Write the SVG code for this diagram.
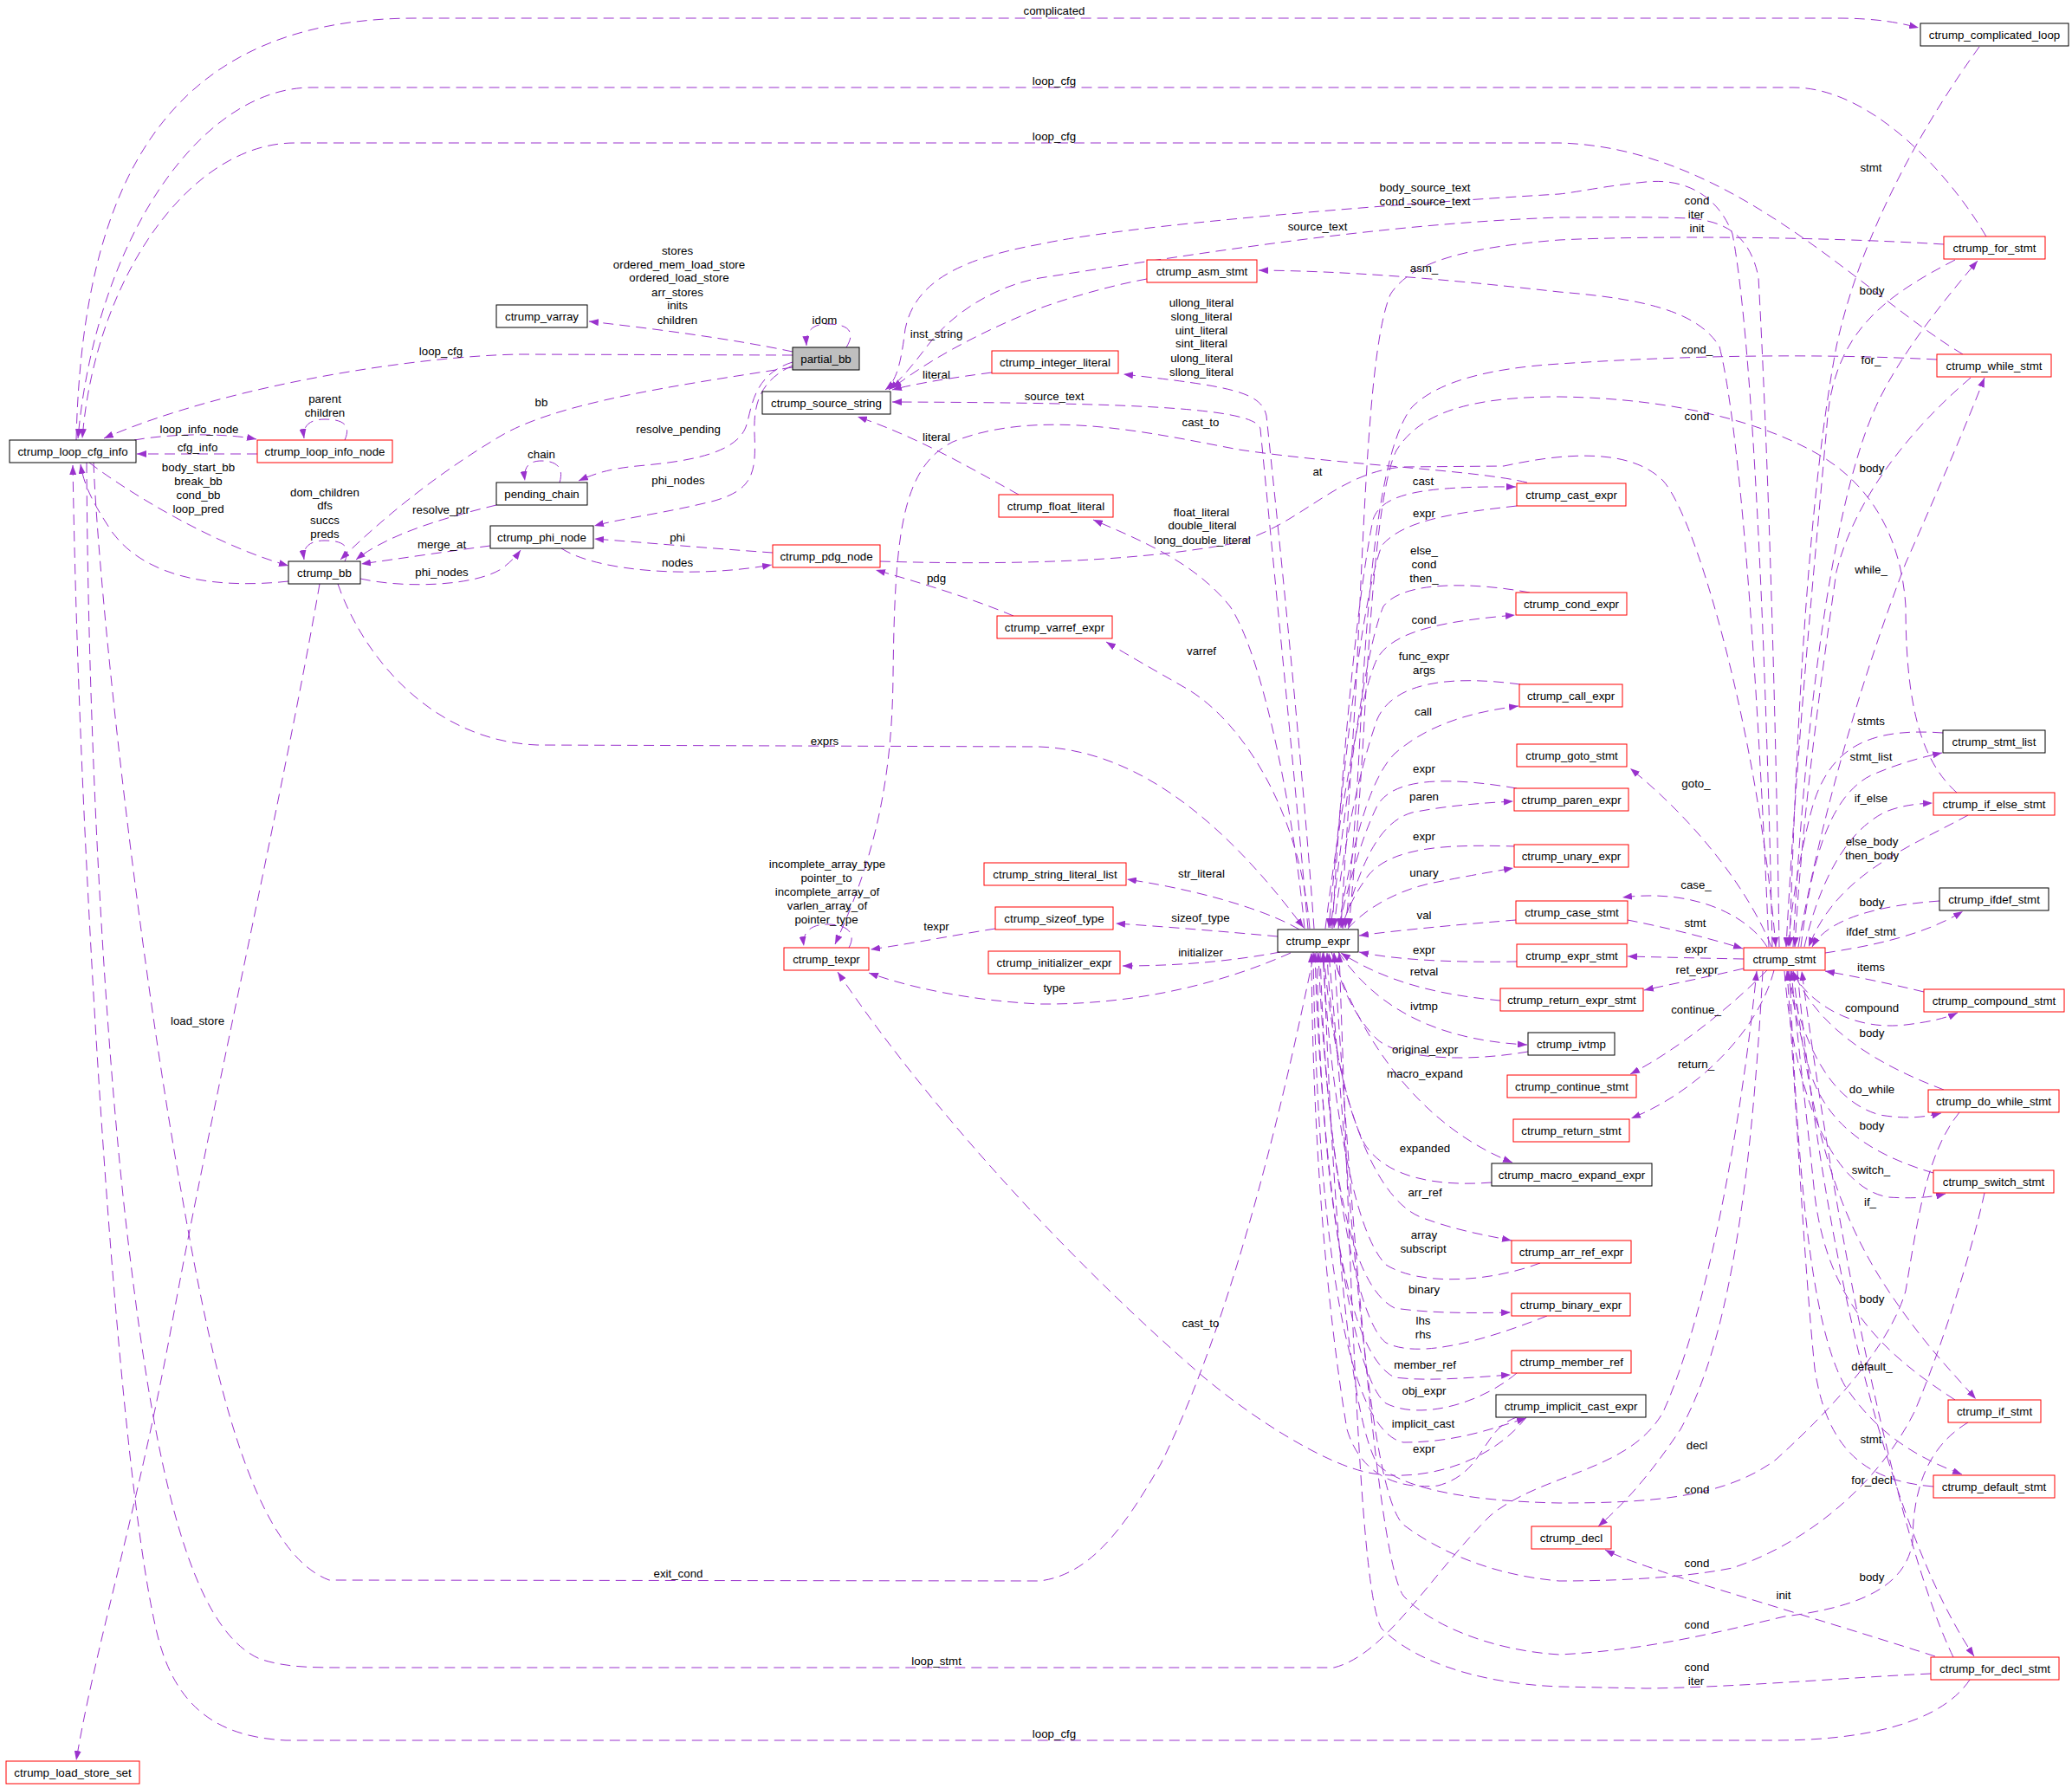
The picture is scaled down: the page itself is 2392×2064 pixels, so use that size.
<svg xmlns="http://www.w3.org/2000/svg" width="2392" height="2064" viewBox="0 0 2392 2064">
<style>
.e{fill:none;stroke:#9a32cd;stroke-width:1;stroke-dasharray:12,7;marker-end:url(#a)}
.b{fill:#fff;stroke:#000;stroke-width:1}
.r{fill:#fff;stroke:#f00;stroke-width:1}
.g{fill:#bfbfbf;stroke:#000;stroke-width:1}
text{font-family:"Liberation Sans",Arial,sans-serif;font-size:13.3px;fill:#000;text-anchor:middle}
</style>
<defs>
<marker id="a" viewBox="0 0 11 8" refX="11" refY="4" markerWidth="11" markerHeight="8" markerUnits="userSpaceOnUse" orient="auto"><path d="M0,0L11,4L0,8z" fill="#9a32cd"/></marker>
</defs>
<rect width="2392" height="2064" fill="#fff"/>
<g id="edges">
<path class="e" d="M88,508 C95,200 200,21 480,21 L2120,21 C2170,21 2195,27 2215,32"/>
<path class="e" d="M2293,273 C2250,200 2160,101 2070,101 L360,101 C230,101 110,280 90,506"/>
<path class="e" d="M2266,409 C2150,340 2000,170 1800,165 L340,165 C220,165 110,320 95,506"/>
<path class="e" d="M915,410 L600,409 C480,411 260,445 120,506"/>
<path class="e" d="M915,406 C850,392 760,380 680,371"/>
<path class="e" d="M977,401 C990,380 975,374 955,374 C938,374 930,382 931,399"/>
<path class="e" d="M915,424 C780,445 640,465 575,505 C500,550 440,600 393,646"/>
<path class="e" d="M915,418 C870,432 868,470 862,490 C852,525 790,533 735,538 C705,541 688,546 668,555"/>
<path class="e" d="M915,422 C875,440 870,470 871,500 C873,545 870,565 825,578 C770,592 720,598 686,607"/>
<path class="e" d="M646,557 C652,538 640,532 625,532 C610,532 604,540 606,555"/>
<path class="e" d="M573,583 C520,596 450,615 411,646"/>
<path class="e" d="M566,630 C520,636 460,645 417,651"/>
<path class="e" d="M416,668 C470,680 550,676 580,656 C590,648 596,642 601,635"/>
<path class="e" d="M398,648 C406,630 395,624 375,624 C357,624 349,632 351,646"/>
<path class="e" d="M103,534 C150,570 250,630 333,653"/>
<path class="e" d="M333,671 C250,680 170,668 130,615 C110,585 97,562 93,536"/>
<path class="e" d="M155,508 C200,500 260,500 296,507"/>
<path class="e" d="M297,524 L158,524"/>
<path class="e" d="M398,508 C406,490 395,484 375,484 C357,484 349,492 351,506"/>
<path class="e" d="M369,674 C330,900 240,1300 200,1520 C160,1740 110,1900 88,2032"/>
<path class="e" d="M390,674 C420,760 500,855 620,860 L1200,862 C1300,866 1400,930 1505,1071"/>
<path class="e" d="M892,638 C820,633 740,626 686,622"/>
<path class="e" d="M648,633 C690,660 800,668 891,652"/>
<path class="e" d="M1016,648 C1150,652 1300,650 1420,628 C1500,610 1540,545 1620,539 L1736,538 C1800,524 1880,515 1920,555 C1960,600 2030,850 2050,1093"/>
<path class="e" d="M1512,1072 C1500,930 1430,830 1370,795 C1330,772 1300,755 1277,741"/>
<path class="e" d="M1517,1072 C1505,900 1480,650 1462,480 C1456,452 1420,446 1297,432"/>
<path class="e" d="M1510,1072 C1495,900 1470,650 1455,495 C1450,470 1300,465 1030,464"/>
<path class="e" d="M1506,1072 C1495,950 1460,760 1420,700 C1380,650 1320,625 1262,600"/>
<path class="e" d="M1324,322 C1280,330 1230,345 1200,356 C1140,380 1080,410 1030,448"/>
<path class="e" d="M1145,430 C1100,436 1060,442 1030,450"/>
<path class="e" d="M1176,571 C1120,540 1060,505 990,481"/>
<path class="e" d="M1763,557 C1700,542 1560,538 1430,519 C1330,500 1200,470 1100,510 C1040,540 1033,620 1031,780 C1030,900 1010,990 964,1090"/>
<path class="e" d="M1170,711 C1120,690 1060,672 1011,658"/>
<path class="e" d="M1500,1073 C1470,1055 1400,1030 1301,1015"/>
<path class="e" d="M1475,1081 C1420,1076 1350,1070 1288,1066"/>
<path class="e" d="M1478,1099 C1430,1108 1370,1115 1296,1115"/>
<path class="e" d="M1490,1100 C1400,1140 1300,1160 1200,1159 C1120,1155 1050,1140 1003,1123"/>
<path class="e" d="M1149,1072 C1110,1078 1060,1088 1005,1096"/>
<path class="e" d="M980,1094 C990,1075 975,1067 955,1067 C935,1067 926,1077 928,1092"/>
<path class="e" d="M1538,1072 C1548,900 1565,700 1585,600 C1595,570 1640,561 1750,562"/>
<path class="e" d="M1751,584 C1680,592 1620,600 1595,630 C1570,700 1550,900 1534,1071"/>
<path class="e" d="M1766,684 C1700,672 1620,670 1597,700 C1572,760 1552,950 1536,1071"/>
<path class="e" d="M1530,1072 C1545,950 1570,800 1590,760 C1610,725 1680,716 1749,710"/>
<path class="e" d="M1755,790 C1680,780 1610,785 1590,830 C1565,900 1548,1000 1540,1071"/>
<path class="e" d="M1545,1072 C1560,980 1580,900 1610,870 C1650,835 1700,822 1753,815"/>
<path class="e" d="M1751,910 C1680,898 1610,895 1590,930 C1570,970 1555,1030 1545,1071"/>
<path class="e" d="M1550,1072 C1570,1000 1590,950 1630,938 C1670,930 1710,927 1747,925"/>
<path class="e" d="M1751,977 C1680,975 1610,975 1580,1010 C1565,1030 1555,1050 1549,1071"/>
<path class="e" d="M1556,1072 C1580,1045 1620,1025 1660,1018 C1700,1010 1725,1006 1747,1002"/>
<path class="e" d="M1750,1062 C1700,1066 1620,1073 1569,1080"/>
<path class="e" d="M1751,1110 C1700,1111 1620,1110 1569,1099"/>
<path class="e" d="M1732,1155 C1680,1150 1610,1140 1548,1100"/>
<path class="e" d="M1545,1099 C1580,1150 1640,1200 1763,1206"/>
<path class="e" d="M1764,1214 C1700,1225 1620,1225 1590,1200 C1560,1170 1545,1130 1540,1100"/>
<path class="e" d="M1537,1099 C1570,1200 1640,1300 1746,1342"/>
<path class="e" d="M1722,1365 C1660,1370 1600,1360 1575,1320 C1550,1270 1535,1180 1532,1100"/>
<path class="e" d="M1528,1099 C1540,1250 1580,1380 1640,1405 C1680,1420 1710,1425 1745,1432"/>
<path class="e" d="M1778,1458 C1720,1480 1640,1485 1600,1460 C1560,1420 1535,1250 1527,1100"/>
<path class="e" d="M1524,1099 C1530,1300 1550,1480 1610,1510 C1650,1516 1700,1516 1744,1515"/>
<path class="e" d="M1786,1519 C1720,1545 1640,1570 1600,1550 C1560,1520 1530,1300 1522,1100"/>
<path class="e" d="M1520,1099 C1525,1350 1550,1560 1610,1590 C1650,1595 1700,1590 1744,1587"/>
<path class="e" d="M1751,1585 C1710,1620 1640,1640 1600,1620 C1560,1590 1525,1350 1518,1100"/>
<path class="e" d="M1516,1099 C1520,1400 1550,1650 1620,1665 C1680,1665 1720,1650 1762,1637"/>
<path class="e" d="M1751,1636 C1710,1650 1715,1700 1660,1715 C1610,1720 1570,1700 1555,1650 C1530,1500 1515,1300 1514,1100"/>
<path class="e" d="M1762,1636 C1720,1690 1640,1712 1580,1700 C1530,1690 1450,1640 1390,1590 C1250,1470 1080,1290 967,1122"/>
<path class="e" d="M2244,282 C2100,273 1900,272 1800,277 C1700,285 1630,300 1605,340 C1580,400 1575,600 1565,800 C1558,920 1552,1000 1548,1071"/>
<path class="e" d="M2236,415 C2100,408 1950,410 1800,420 C1720,425 1660,440 1630,470 C1590,520 1578,700 1570,850 C1565,950 1558,1030 1553,1071"/>
<path class="e" d="M2259,915 C2220,880 2200,820 2200,700 C2195,620 2160,560 2100,525 C2040,490 1940,460 1800,458 C1700,458 1640,475 1612,520 C1592,560 1582,700 1574,850 C1568,950 1562,1020 1557,1071"/>
<path class="e" d="M2262,1284 C2225,1330 2215,1400 2200,1490 C2180,1560 2100,1640 2050,1685 C1990,1730 1900,1735 1800,1735 C1700,1733 1620,1720 1590,1690 C1550,1620 1535,1300 1528,1100"/>
<path class="e" d="M2291,1377 C2275,1450 2240,1560 2210,1630 C2170,1710 2090,1780 2000,1810 C1940,1822 1860,1825 1800,1825 C1720,1818 1660,1790 1620,1760 C1580,1720 1560,1400 1534,1100"/>
<path class="e" d="M2272,1642 C2225,1670 2208,1720 2208,1780 C2200,1830 2150,1855 2060,1866 C1980,1885 1900,1905 1800,1910 C1720,1905 1650,1875 1620,1842 C1590,1800 1560,1400 1540,1100"/>
<path class="e" d="M2229,1932 C2140,1936 2000,1948 1900,1949 L1800,1947 C1700,1943 1630,1915 1595,1880 C1570,1840 1560,1500 1546,1100"/>
<path class="e" d="M2274,1939 C2240,1990 2150,2009 2050,2009 L330,2009 C250,2005 200,1970 180,1880 C150,1750 120,1400 100,1000 C90,800 86,650 84,537"/>
<path class="e" d="M100,534 C102,900 125,1250 150,1450 C180,1700 220,1880 300,1915 C330,1925 360,1925 400,1925 L1540,1925 C1600,1910 1650,1820 1720,1750 C1780,1700 1880,1700 1920,1630 C1970,1520 2010,1300 2028,1121"/>
<path class="e" d="M108,534 C115,700 160,1100 210,1380 C245,1580 290,1790 380,1824 L1200,1825 C1260,1818 1300,1760 1340,1690 C1400,1570 1460,1380 1517,1100"/>
<path class="e" d="M2046,1093 C2040,800 2025,400 2000,270 C1985,230 1950,205 1900,210 C1850,215 1820,222 1800,224 C1600,236 1300,260 1200,282 C1100,300 1055,330 1045,380 C1040,420 1035,440 1022,450"/>
<path class="e" d="M2054,1093 C2050,800 2040,500 2030,320 C2020,270 1990,255 1950,252 C1900,250 1850,251 1800,251 C1600,258 1400,290 1200,321 C1150,330 1100,360 1070,400 C1055,420 1040,438 1026,450"/>
<path class="e" d="M2042,1093 C2030,800 2010,500 1985,400 C1960,360 1900,345 1800,337 C1650,320 1550,313 1453,312"/>
<path class="e" d="M2045,1093 C2020,1030 1960,950 1882,887"/>
<path class="e" d="M2040,1093 C2020,1060 1960,1025 1873,1036"/>
<path class="e" d="M1879,1062 C1920,1070 1970,1082 2012,1095"/>
<path class="e" d="M2013,1107 C1960,1106 1920,1105 1879,1104"/>
<path class="e" d="M2013,1118 C1970,1128 1930,1136 1898,1143"/>
<path class="e" d="M2040,1120 C2000,1160 1940,1210 1882,1240"/>
<path class="e" d="M2048,1120 C2030,1190 1960,1260 1883,1291"/>
<path class="e" d="M2285,54 C2230,130 2150,260 2120,400 C2090,560 2075,800 2066,1093"/>
<path class="e" d="M2257,300 C2180,340 2120,380 2110,480 C2095,650 2075,850 2062,1093"/>
<path class="e" d="M2070,1093 C2085,800 2120,560 2170,460 C2200,400 2250,340 2283,301"/>
<path class="e" d="M2275,436 C2200,500 2140,580 2120,660 C2100,800 2080,950 2072,1093"/>
<path class="e" d="M2076,1093 C2100,950 2150,780 2200,650 C2240,560 2270,490 2291,436"/>
<path class="e" d="M2243,846 C2160,840 2110,860 2090,940 C2075,1000 2068,1050 2064,1093"/>
<path class="e" d="M2079,1093 C2090,1000 2110,920 2160,895 C2190,882 2215,875 2242,869"/>
<path class="e" d="M2083,1093 C2100,1020 2130,960 2177,937 C2195,930 2210,928 2231,927"/>
<path class="e" d="M2272,941 C2200,980 2120,1010 2088,1093"/>
<path class="e" d="M2239,1040 C2170,1045 2110,1060 2092,1093"/>
<path class="e" d="M2107,1100 C2160,1092 2220,1080 2266,1052"/>
<path class="e" d="M2221,1145 C2180,1135 2140,1127 2107,1121"/>
<path class="e" d="M2068,1121 C2090,1160 2140,1190 2200,1183 C2225,1180 2245,1176 2260,1169"/>
<path class="e" d="M2244,1258 C2170,1230 2100,1190 2070,1121"/>
<path class="e" d="M2064,1121 C2080,1200 2110,1270 2170,1287 C2200,1292 2220,1290 2241,1285"/>
<path class="e" d="M2232,1354 C2150,1330 2100,1290 2085,1220 C2075,1180 2068,1150 2064,1121"/>
<path class="e" d="M2060,1121 C2070,1250 2110,1370 2180,1382 C2210,1384 2230,1382 2246,1378"/>
<path class="e" d="M2070,1121 C2090,1300 2120,1400 2180,1490 C2220,1550 2250,1580 2281,1615"/>
<path class="e" d="M2257,1616 C2170,1560 2110,1500 2095,1380 C2085,1280 2075,1200 2068,1121"/>
<path class="e" d="M2066,1121 C2075,1350 2090,1530 2130,1600 C2170,1660 2220,1685 2265,1702"/>
<path class="e" d="M2232,1716 C2160,1710 2110,1680 2095,1580 C2082,1450 2072,1250 2063,1121"/>
<path class="e" d="M2255,1913 C2200,1800 2130,1500 2080,1121"/>
<path class="e" d="M2075,1121 C2100,1400 2170,1750 2279,1912"/>
<path class="e" d="M2234,1912 C2150,1885 2000,1840 1930,1818 C1895,1806 1870,1798 1853,1789"/>
<path class="e" d="M2035,1121 C2020,1400 1990,1560 1940,1650 C1900,1710 1870,1740 1845,1762"/>
</g>
<g id="edge-labels">
<text x="1217" y="17">complicated</text>
<text x="1217" y="98">loop_cfg</text>
<text x="1217" y="162">loop_cfg</text>
<text x="1645" y="221">body_source_text</text>
<text x="1645" y="237">cond_source_text</text>
<text x="1521" y="266">source_text</text>
<text x="1959" y="236">cond</text>
<text x="1958" y="252">iter</text>
<text x="1959" y="268">init</text>
<text x="2160" y="198">stmt</text>
<text x="782" y="294">stores</text>
<text x="784" y="310">ordered_mem_load_store</text>
<text x="784" y="325">ordered_load_store</text>
<text x="782" y="342">arr_stores</text>
<text x="782" y="357">inits</text>
<text x="782" y="374">children</text>
<text x="952" y="374">idom</text>
<text x="1644" y="314">asm_</text>
<text x="2161" y="340">body</text>
<text x="1387" y="354">ullong_literal</text>
<text x="1387" y="370">slong_literal</text>
<text x="1387" y="386">uint_literal</text>
<text x="1387" y="401">sint_literal</text>
<text x="1387" y="418">ulong_literal</text>
<text x="1387" y="434">sllong_literal</text>
<text x="1081" y="390">inst_string</text>
<text x="509" y="410">loop_cfg</text>
<text x="1959" y="408">cond_</text>
<text x="2160" y="420">for_</text>
<text x="1081" y="437">literal</text>
<text x="1217" y="462">source_text</text>
<text x="375" y="465">parent</text>
<text x="375" y="481">children</text>
<text x="625" y="469">bb</text>
<text x="1959" y="485">cond</text>
<text x="1386" y="492">cast_to</text>
<text x="230" y="500">loop_info_node</text>
<text x="783" y="500">resolve_pending</text>
<text x="1081" y="509">literal</text>
<text x="228" y="521">cfg_info</text>
<text x="625" y="529">chain</text>
<text x="229" y="544">body_start_bb</text>
<text x="229" y="560">break_bb</text>
<text x="229" y="576">cond_bb</text>
<text x="229" y="592">loop_pred</text>
<text x="2161" y="545">body</text>
<text x="1521" y="549">at</text>
<text x="783" y="559">phi_nodes</text>
<text x="1643" y="560">cast</text>
<text x="375" y="573">dom_children</text>
<text x="375" y="588">dfs</text>
<text x="375" y="605">succs</text>
<text x="375" y="621">preds</text>
<text x="509" y="593">resolve_ptr</text>
<text x="1387" y="596">float_literal</text>
<text x="1388" y="611">double_literal</text>
<text x="1388" y="628">long_double_literal</text>
<text x="1644" y="597">expr</text>
<text x="782" y="625">phi</text>
<text x="510" y="633">merge_at</text>
<text x="1644" y="640">else_</text>
<text x="1644" y="656">cond</text>
<text x="1644" y="672">then_</text>
<text x="782" y="654">nodes</text>
<text x="2160" y="662">while_</text>
<text x="510" y="665">phi_nodes</text>
<text x="1081" y="672">pdg</text>
<text x="1644" y="720">cond</text>
<text x="1387" y="756">varref</text>
<text x="1644" y="762">func_expr</text>
<text x="1644" y="778">args</text>
<text x="1643" y="826">call</text>
<text x="2160" y="837">stmts</text>
<text x="952" y="860">exprs</text>
<text x="2160" y="878">stmt_list</text>
<text x="1644" y="892">expr</text>
<text x="1958" y="909">goto_</text>
<text x="1644" y="924">paren</text>
<text x="2160" y="926">if_else</text>
<text x="1644" y="970">expr</text>
<text x="2161" y="976">else_body</text>
<text x="2161" y="992">then_body</text>
<text x="955" y="1002">incomplete_array_type</text>
<text x="954" y="1018">pointer_to</text>
<text x="955" y="1034">incomplete_array_of</text>
<text x="955" y="1050">varlen_array_of</text>
<text x="954" y="1066">pointer_type</text>
<text x="1644" y="1012">unary</text>
<text x="1387" y="1013">str_literal</text>
<text x="1958" y="1026">case_</text>
<text x="2161" y="1046">body</text>
<text x="1644" y="1061">val</text>
<text x="1386" y="1064">sizeof_type</text>
<text x="1957" y="1070">stmt</text>
<text x="1081" y="1074">texpr</text>
<text x="2160" y="1080">ifdef_stmt</text>
<text x="1958" y="1100">expr</text>
<text x="1644" y="1101">expr</text>
<text x="1386" y="1104">initializer</text>
<text x="2160" y="1121">items</text>
<text x="1959" y="1124">ret_expr</text>
<text x="1644" y="1126">retval</text>
<text x="1217" y="1145">type</text>
<text x="1644" y="1166">ivtmp</text>
<text x="2161" y="1168">compound</text>
<text x="1958" y="1170">continue_</text>
<text x="228" y="1183">load_store</text>
<text x="2161" y="1197">body</text>
<text x="1645" y="1216">original_expr</text>
<text x="1958" y="1233">return_</text>
<text x="1645" y="1244">macro_expand</text>
<text x="2161" y="1262">do_while</text>
<text x="2161" y="1304">body</text>
<text x="1645" y="1330">expanded</text>
<text x="2160" y="1355">switch_</text>
<text x="1645" y="1381">arr_ref</text>
<text x="2159" y="1392">if_</text>
<text x="1644" y="1430">array</text>
<text x="1643" y="1446">subscript</text>
<text x="1644" y="1493">binary</text>
<text x="2161" y="1504">body</text>
<text x="1643" y="1529">lhs</text>
<text x="1643" y="1545">rhs</text>
<text x="1386" y="1532">cast_to</text>
<text x="1645" y="1580">member_ref</text>
<text x="2161" y="1582">default_</text>
<text x="1644" y="1610">obj_expr</text>
<text x="1643" y="1648">implicit_cast</text>
<text x="2160" y="1666">stmt</text>
<text x="1959" y="1673">decl</text>
<text x="1644" y="1677">expr</text>
<text x="2161" y="1713">for_decl</text>
<text x="1959" y="1724">cond</text>
<text x="1959" y="1809">cond</text>
<text x="783" y="1821">exit_cond</text>
<text x="2161" y="1825">body</text>
<text x="2059" y="1846">init</text>
<text x="1959" y="1880">cond</text>
<text x="1081" y="1922">loop_stmt</text>
<text x="1959" y="1929">cond</text>
<text x="1958" y="1945">iter</text>
<text x="1217" y="2006">loop_cfg</text>
</g>
<g id="n_complicated_loop"><rect class="b" x="2217" y="27" width="171" height="26"/><text x="2302.5" y="45">ctrump_complicated_loop</text></g>
<g id="n_for_stmt"><rect class="r" x="2244" y="273" width="117" height="26"/><text x="2302.5" y="291">ctrump_for_stmt</text></g>
<g id="n_asm_stmt"><rect class="r" x="1324" y="300" width="127" height="26"/><text x="1387.5" y="318">ctrump_asm_stmt</text></g>
<g id="n_varray"><rect class="b" x="573" y="352" width="105" height="26"/><text x="625.5" y="370">ctrump_varray</text></g>
<g id="n_partial_bb"><rect class="g" x="915" y="401" width="77" height="26"/><text x="953.5" y="419">partial_bb</text></g>
<g id="n_integer_literal"><rect class="r" x="1145" y="405" width="146" height="26"/><text x="1218" y="423">ctrump_integer_literal</text></g>
<g id="n_while_stmt"><rect class="r" x="2236" y="409" width="132" height="26"/><text x="2302" y="427">ctrump_while_stmt</text></g>
<g id="n_source_string"><rect class="b" x="880" y="452" width="148" height="26"/><text x="954" y="470">ctrump_source_string</text></g>
<g id="n_loop_cfg_info"><rect class="b" x="11" y="508" width="146" height="26"/><text x="84" y="526">ctrump_loop_cfg_info</text></g>
<g id="n_loop_info_node"><rect class="r" x="297" y="508" width="156" height="26"/><text x="375" y="526">ctrump_loop_info_node</text></g>
<g id="n_pending_chain"><rect class="b" x="573" y="557" width="105" height="26"/><text x="625.5" y="575">pending_chain</text></g>
<g id="n_phi_node"><rect class="b" x="566" y="607" width="119" height="26"/><text x="625.5" y="625">ctrump_phi_node</text></g>
<g id="n_bb"><rect class="b" x="333" y="648" width="83" height="26"/><text x="374.5" y="666">ctrump_bb</text></g>
<g id="n_float_literal"><rect class="r" x="1153" y="571" width="132" height="26"/><text x="1219" y="589">ctrump_float_literal</text></g>
<g id="n_cast_expr"><rect class="r" x="1751" y="558" width="126" height="26"/><text x="1814" y="576">ctrump_cast_expr</text></g>
<g id="n_pdg_node"><rect class="r" x="892" y="629" width="124" height="26"/><text x="954" y="647">ctrump_pdg_node</text></g>
<g id="n_cond_expr"><rect class="r" x="1750" y="684" width="128" height="26"/><text x="1814" y="702">ctrump_cond_expr</text></g>
<g id="n_varref_expr"><rect class="r" x="1151" y="711" width="133" height="26"/><text x="1217.5" y="729">ctrump_varref_expr</text></g>
<g id="n_call_expr"><rect class="r" x="1754" y="790" width="119" height="26"/><text x="1813.5" y="808">ctrump_call_expr</text></g>
<g id="n_goto_stmt"><rect class="r" x="1751" y="859" width="127" height="26"/><text x="1814.5" y="877">ctrump_goto_stmt</text></g>
<g id="n_stmt_list"><rect class="b" x="2243" y="843" width="118" height="26"/><text x="2302" y="861">ctrump_stmt_list</text></g>
<g id="n_paren_expr"><rect class="r" x="1748" y="910" width="132" height="26"/><text x="1814" y="928">ctrump_paren_expr</text></g>
<g id="n_if_else_stmt"><rect class="r" x="2232" y="915" width="140" height="26"/><text x="2302" y="933">ctrump_if_else_stmt</text></g>
<g id="n_unary_expr"><rect class="r" x="1748" y="975" width="132" height="26"/><text x="1814" y="993">ctrump_unary_expr</text></g>
<g id="n_string_literal_list"><rect class="r" x="1136" y="996" width="164" height="26"/><text x="1218" y="1014">ctrump_string_literal_list</text></g>
<g id="n_ifdef_stmt"><rect class="b" x="2239" y="1025" width="126" height="26"/><text x="2302" y="1043">ctrump_ifdef_stmt</text></g>
<g id="n_case_stmt"><rect class="r" x="1750" y="1040" width="129" height="26"/><text x="1814.5" y="1058">ctrump_case_stmt</text></g>
<g id="n_sizeof_type"><rect class="r" x="1149" y="1047" width="136" height="26"/><text x="1217" y="1065">ctrump_sizeof_type</text></g>
<g id="n_expr"><rect class="b" x="1475" y="1073" width="93" height="26"/><text x="1521.5" y="1091">ctrump_expr</text></g>
<g id="n_expr_stmt"><rect class="r" x="1751" y="1090" width="127" height="26"/><text x="1814.5" y="1108">ctrump_expr_stmt</text></g>
<g id="n_texpr"><rect class="r" x="905" y="1094" width="98" height="26"/><text x="954" y="1112">ctrump_texpr</text></g>
<g id="n_stmt"><rect class="r" x="2013" y="1094" width="94" height="26"/><text x="2060" y="1112">ctrump_stmt</text></g>
<g id="n_initializer_expr"><rect class="r" x="1141" y="1098" width="152" height="26"/><text x="1217" y="1116">ctrump_initializer_expr</text></g>
<g id="n_return_expr_stmt"><rect class="r" x="1732" y="1141" width="165" height="26"/><text x="1814.5" y="1159">ctrump_return_expr_stmt</text></g>
<g id="n_compound_stmt"><rect class="r" x="2221" y="1142" width="162" height="26"/><text x="2302" y="1160">ctrump_compound_stmt</text></g>
<g id="n_ivtmp"><rect class="b" x="1764" y="1192" width="100" height="26"/><text x="1814" y="1210">ctrump_ivtmp</text></g>
<g id="n_continue_stmt"><rect class="r" x="1740" y="1241" width="149" height="26"/><text x="1814.5" y="1259">ctrump_continue_stmt</text></g>
<g id="n_do_while_stmt"><rect class="r" x="2226" y="1258" width="151" height="26"/><text x="2301.5" y="1276">ctrump_do_while_stmt</text></g>
<g id="n_return_stmt"><rect class="r" x="1747" y="1292" width="134" height="26"/><text x="1814" y="1310">ctrump_return_stmt</text></g>
<g id="n_macro_expand_expr"><rect class="b" x="1722" y="1343" width="185" height="26"/><text x="1814.5" y="1361">ctrump_macro_expand_expr</text></g>
<g id="n_switch_stmt"><rect class="r" x="2232" y="1351" width="139" height="26"/><text x="2301.5" y="1369">ctrump_switch_stmt</text></g>
<g id="n_arr_ref_expr"><rect class="r" x="1745" y="1432" width="138" height="26"/><text x="1814" y="1450">ctrump_arr_ref_expr</text></g>
<g id="n_binary_expr"><rect class="r" x="1745" y="1493" width="137" height="26"/><text x="1813.5" y="1511">ctrump_binary_expr</text></g>
<g id="n_member_ref"><rect class="r" x="1745" y="1559" width="138" height="26"/><text x="1814" y="1577">ctrump_member_ref</text></g>
<g id="n_implicit_cast_expr"><rect class="b" x="1727" y="1610" width="173" height="26"/><text x="1813.5" y="1628">ctrump_implicit_cast_expr</text></g>
<g id="n_if_stmt"><rect class="r" x="2249" y="1616" width="107" height="26"/><text x="2302.5" y="1634">ctrump_if_stmt</text></g>
<g id="n_default_stmt"><rect class="r" x="2232" y="1703" width="140" height="26"/><text x="2302" y="1721">ctrump_default_stmt</text></g>
<g id="n_decl"><rect class="r" x="1768" y="1762" width="92" height="26"/><text x="1814" y="1780">ctrump_decl</text></g>
<g id="n_for_decl_stmt"><rect class="r" x="2229" y="1913" width="148" height="26"/><text x="2303" y="1931">ctrump_for_decl_stmt</text></g>
<g id="n_load_store_set"><rect class="r" x="7" y="2033" width="154" height="26"/><text x="84" y="2051">ctrump_load_store_set</text></g>
</svg>
